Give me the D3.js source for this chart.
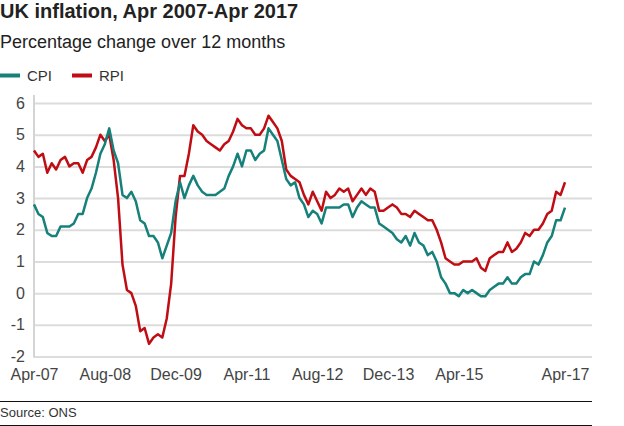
<!DOCTYPE html>
<html>
<head>
<meta charset="utf-8">
<script src="https://cdn.jsdelivr.net/npm/d3@7"></script>
<style>
  body { margin: 0; background: #fff; }
  svg { display: block; font-family: "Liberation Sans", Arial, Helvetica, sans-serif; }
</style>
</head>
<body>
<svg id="chart" width="624" height="426"></svg>
<script>
// Monthly 12-month rates, Apr 2007 .. Apr 2017
const startMonth = "2007-04";
const cpi = [
  2.8, 2.5, 2.4, 1.9, 1.8, 1.8, 2.1, 2.1, 2.1,
  2.2, 2.5, 2.5, 3.0, 3.3, 3.8, 4.4, 4.7, 5.2, 4.5, 4.1, 3.1,
  3.0, 3.2, 2.9, 2.3, 2.2, 1.8, 1.8, 1.6, 1.1, 1.5, 1.9, 2.9,
  3.5, 3.0, 3.4, 3.7, 3.4, 3.2, 3.1, 3.1, 3.1, 3.2, 3.3, 3.7,
  4.0, 4.4, 4.0, 4.5, 4.5, 4.2, 4.4, 4.5, 5.2, 5.0, 4.8, 4.2,
  3.6, 3.4, 3.5, 3.0, 2.8, 2.4, 2.6, 2.5, 2.2, 2.7, 2.7, 2.7,
  2.7, 2.8, 2.8, 2.4, 2.7, 2.9, 2.8, 2.7, 2.7, 2.2, 2.1, 2.0,
  1.9, 1.7, 1.6, 1.8, 1.5, 1.9, 1.6, 1.5, 1.2, 1.3, 1.0, 0.5,
  0.3, 0.0, 0.0, -0.1, 0.1, 0.0, 0.1, 0.0, -0.1, -0.1, 0.1, 0.2,
  0.3, 0.3, 0.5, 0.3, 0.3, 0.5, 0.6, 0.6, 1.0, 0.9, 1.2, 1.6,
  1.8, 2.3, 2.3, 2.7
];
const rpi = [
  4.5, 4.3, 4.4, 3.8, 4.1, 3.9, 4.2, 4.3, 4.0,
  4.1, 4.1, 3.8, 4.2, 4.3, 4.6, 5.0, 4.8, 5.0, 4.2, 3.0, 0.9,
  0.1, 0.0, -0.4, -1.2, -1.1, -1.6, -1.4, -1.3, -1.4, -0.8, 0.3, 2.4,
  3.7, 3.7, 4.4, 5.3, 5.1, 5.0, 4.8, 4.7, 4.6, 4.5, 4.7, 4.8,
  5.1, 5.5, 5.3, 5.2, 5.2, 5.0, 5.0, 5.2, 5.6, 5.4, 5.2, 4.8,
  3.9, 3.7, 3.6, 3.5, 3.1, 2.8, 3.2, 2.9, 2.6, 3.2, 3.0, 3.1,
  3.3, 3.2, 3.3, 2.9, 3.1, 3.3, 3.1, 3.3, 3.2, 2.6, 2.6, 2.7,
  2.8, 2.7, 2.5, 2.5, 2.4, 2.6, 2.5, 2.4, 2.3, 2.3, 2.0, 1.6,
  1.1, 1.0, 0.9, 0.9, 1.0, 1.0, 1.0, 1.1, 0.8, 0.7, 1.1, 1.2,
  1.3, 1.3, 1.6, 1.3, 1.4, 1.6, 1.9, 1.8, 2.0, 2.0, 2.2, 2.5,
  2.6, 3.2, 3.1, 3.5
];
const xTickIndex = [0, 16, 32, 48, 64, 80, 96, 120];
const xTickLabels = ["Apr-07", "Aug-08", "Dec-09", "Apr-11", "Aug-12", "Dec-13", "Apr-15", "Apr-17"];
const yTicks = [-2, -1, 0, 1, 2, 3, 4, 5, 6];
const seriesNames = ["CPI", "RPI"];
const seriesColors = ["#16807a", "#bf0d13"];

const svg = d3.select("#chart");
const x = d3.scaleLinear().domain([0, 120]).range([34, 565]);
const y = d3.scaleLinear().domain([-2, 6]).range([356.5, 103]);

// Title block
svg.append("text").attr("x", 0).attr("y", 18)
  .attr("font-size", 20).attr("font-weight", "bold").attr("fill", "#222")
  .text("UK inflation, Apr 2007-Apr 2017");
svg.append("text").attr("x", 0).attr("y", 48)
  .attr("font-size", 18).attr("fill", "#222")
  .text("Percentage change over 12 months");

// Legend
const legend = svg.append("g");
const legX = [0, 72];
seriesNames.forEach((n, i) => {
  legend.append("rect").attr("x", legX[i]).attr("y", 73.5).attr("width", 20).attr("height", 4)
    .attr("fill", seriesColors[i]);
  legend.append("text").attr("x", legX[i] + 27).attr("y", 81)
    .attr("font-size", 15).attr("fill", "#333").text(n);
});

// Gridlines
const yAxis = d3.axisLeft(y).tickValues(yTicks).tickSize(-(592 - 34)).tickPadding(9)
  .tickFormat(d => (d < 0 ? "-" : "") + Math.abs(d));
const gy = svg.append("g").attr("transform", "translate(34,0)").call(yAxis);
gy.select(".domain").remove();
gy.selectAll(".tick line").attr("stroke", "#dcdcdc").attr("stroke-width", 2);
gy.selectAll(".tick text").attr("font-size", 16).attr("fill", "#444")
  .attr("font-family", "'Liberation Sans', Arial, sans-serif");

// vertical axis line
svg.append("line").attr("x1", 34).attr("x2", 34).attr("y1", 95).attr("y2", 357.5)
  .attr("stroke", "#d4d4d4").attr("stroke-width", 2);

// X axis labels
const xAxis = d3.axisBottom(x).tickValues(xTickIndex)
  .tickFormat((d, i) => xTickLabels[i]).tickSize(0).tickPadding(12);
const gx = svg.append("g").attr("transform", "translate(0,357)").call(xAxis);
gx.select(".domain").remove();
gx.selectAll(".tick text").attr("font-size", 16).attr("fill", "#444")
  .attr("font-family", "'Liberation Sans', Arial, sans-serif");

// Lines
const line = d3.line().x((d, i) => x(i)).y(d => y(d));
[rpi, cpi].forEach((s, k) => {
  const idx = k === 0 ? 1 : 0;
  svg.append("path").datum(s).attr("d", line)
    .attr("fill", "none").attr("stroke", seriesColors[idx])
    .attr("stroke-width", 2.5).attr("stroke-linejoin", "round");
});

// Footer
svg.append("line").attr("x1", 0).attr("x2", 592).attr("y1", 401.5).attr("y2", 401.5)
  .attr("stroke", "#111").attr("stroke-width", 1);
svg.append("text").attr("x", 0).attr("y", 417).attr("font-size", 13).attr("fill", "#333")
  .text("Source: ONS");
svg.append("line").attr("x1", 0).attr("x2", 592).attr("y1", 425.5).attr("y2", 425.5)
  .attr("stroke", "#111").attr("stroke-width", 1);
</script>
</body>
</html>
